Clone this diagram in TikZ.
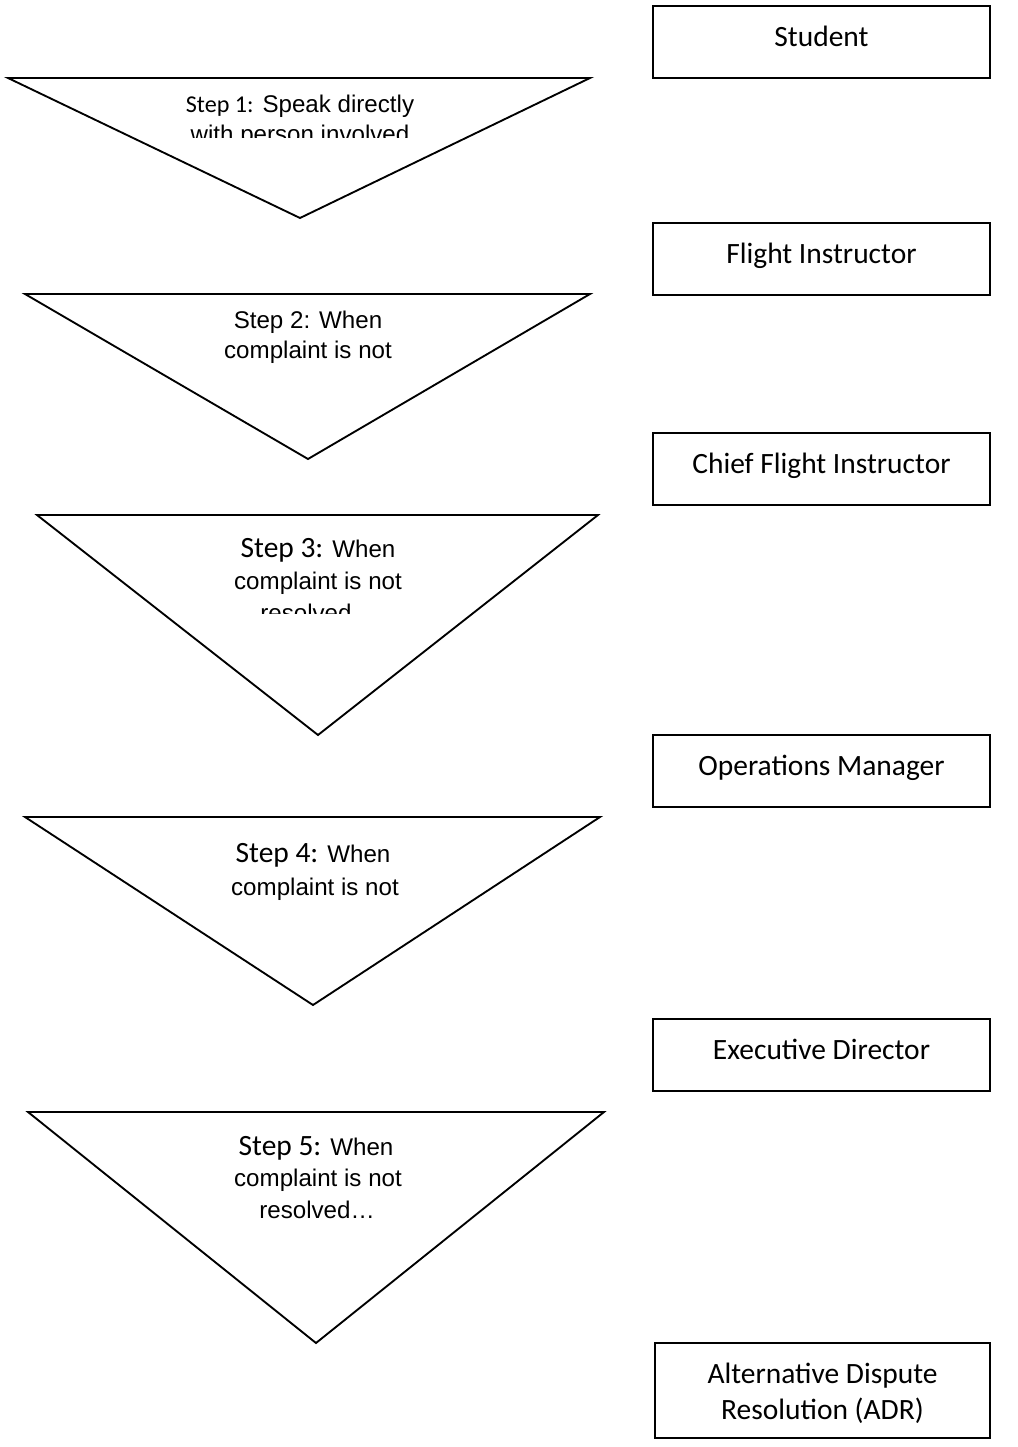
\documentclass[tikz,border=0pt]{standalone}
\usepackage{fontspec}
\setmainfont{Liberation Sans}
\newfontfamily\calfont{Carlito}
\begin{document}
\begin{tikzpicture}[x=0.75pt,y=-0.75pt,
  every node/.style={inner sep=0pt,outer sep=0pt},
  tri/.style={draw,line width=1.4pt,line join=miter},
  ariala/.style={font=\fontsize{18.1}{21.7}\selectfont,anchor=base},
  boxtxt/.style={font=\calfont\fontsize{22.1}{26.5}\selectfont,anchor=base},
  rolebox/.style={draw,line width=1.5pt,minimum width=252.75pt,minimum height=54pt},
]
\useasboundingbox (0,0) rectangle (1018,1447);
\newcommand{\calbig}{\calfont\fontsize{22.1}{26.5}\selectfont}
\newcommand{\calsmall}{\calfont\fontsize{18.1}{21.7}\selectfont}

% ---------- triangles ----------
\draw[tri] (8,78) -- (590,78) -- (300,218) -- cycle;
\draw[tri] (25,294) -- (590,294) -- (308,459) -- cycle;
\draw[tri] (37,515) -- (598,515) -- (318,735) -- cycle;
\draw[tri] (25,817) -- (600,817) -- (313,1005) -- cycle;
\draw[tri] (28,1112) -- (604,1112) -- (316,1343) -- cycle;

% ---------- triangle texts (clipped) ----------
\begin{scope}
  \clip (60,80) rectangle (560,137);
  \node[ariala] (s1a) at (300,112) {{\calsmall Step 1:} Speak directly};
  \node[ariala] (s1b) at (300,142) {with person involved};
\end{scope}
\begin{scope}
  \clip (60,296) rectangle (560,368);
  \node[ariala] (s2a) at (308,328) {Step 2: When};
  \node[ariala] (s2b) at (308,358) {complaint is not};
\end{scope}
\begin{scope}
  \clip (60,517) rectangle (580,613);
  \node[ariala] (s3a) at (318,557) {{\calbig Step 3:} When};
  \node[ariala] (s3b) at (318,589) {complaint is not};
  \node[ariala] (s3c) at (318,621) {resolved…};
\end{scope}
\begin{scope}
  \clip (60,819) rectangle (580,905);
  \node[ariala] (s4a) at (313,862) {{\calbig Step 4:} When};
  \node[ariala] (s4b) at (315,895) {complaint is not};
\end{scope}
\begin{scope}
  \clip (60,1114) rectangle (580,1226);
  \node[ariala] (s5a) at (316,1155) {{\calbig Step 5:} When};
  \node[ariala] (s5b) at (318,1186) {complaint is not};
  \node[ariala] (s5c) at (317,1218) {resolved…};
\end{scope}

% ---------- role boxes ----------
\node[rolebox] (b1) at (821.5,42) {};
\node[boxtxt] (t1) at (821.5,46) {Student};
\node[rolebox] (b2) at (821.5,259) {};
\node[boxtxt] (t2) at (821.5,263) {Flight Instructor};
\node[rolebox] (b3) at (821.5,468.5) {};
\node[boxtxt] (t3) at (821.5,473) {Chief Flight Instructor};
\node[rolebox] (b4) at (821.5,770.5) {};
\node[boxtxt] (t4) at (821.5,775) {Operations Manager};
\node[rolebox] (b5) at (821.5,1054.5) {};
\node[boxtxt] (t5) at (821.5,1059) {Executive Director};
\node[rolebox,minimum width=251.25pt,minimum height=71.25pt] (b6) at (822.5,1390.5) {};
\node[boxtxt] (t6a) at (822.5,1383) {Alternative Dispute};
\node[boxtxt] (t6b) at (822.5,1419) {Resolution (ADR)};
\end{tikzpicture}
\end{document}
